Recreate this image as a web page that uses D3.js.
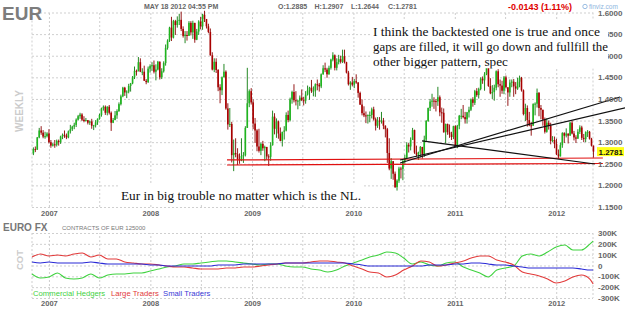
<!DOCTYPE html>
<html>
<head>
<meta charset="utf-8">
<script src="https://cdn.jsdelivr.net/npm/d3@7"></script>
<style>
  body { margin: 0; background: #fff; }
  svg { display: block; font-family: "Liberation Sans", Arial, sans-serif; }
</style>
</head>
<body>
<div id="chart"></div>
<script>
const WIDTH = 625;
const HEIGHT = 311;
const PLOT = {left: 32, right: 593, top: 12.5, bottom: 207};
const COT = {top: 233, bottom: 298};

// weekly candles, one per week starting monday 6 nov 2006 (open = previous close)
const FIRST_WEEK = new Date(2006, 10, 6);
const FIRST_OPEN = 1.274;

const weeklyClose = [
  1.284,1.283,1.311,1.327,1.322,1.313,1.314,1.320,
  1.300,1.292,1.295,1.294,1.303,1.300,1.313,1.317,1.315,1.311,1.325,1.330,1.336,1.340,1.352,1.360,1.364,1.352,1.349,1.351,1.345,1.348,1.338,1.339,1.346,1.354,1.363,1.378,1.382,1.368,1.382,1.368,1.345,1.351,1.362,1.372,1.388,1.406,1.426,1.415,1.417,1.430,1.436,1.450,1.465,1.464,1.485,1.463,1.463,1.442,1.439,1.470,
  1.476,1.478,1.463,1.468,1.486,1.450,1.464,1.483,1.518,1.535,1.565,1.542,1.580,1.571,1.581,1.583,1.562,1.546,1.548,1.546,1.576,1.554,1.576,1.537,1.556,1.579,1.568,1.595,1.585,1.568,1.555,1.501,1.468,1.486,1.467,1.427,1.420,1.450,1.463,1.378,1.341,1.342,1.270,1.275,1.272,1.260,1.258,1.268,1.270,1.333,1.390,1.418,
  1.392,1.343,1.327,1.290,1.280,1.296,1.286,1.289,1.267,1.266,1.293,1.359,1.331,1.348,1.320,1.303,1.324,1.327,1.363,1.351,1.399,1.416,1.397,1.395,1.396,1.403,1.397,1.396,1.410,1.420,1.426,1.418,1.419,1.434,1.433,1.429,1.457,1.471,1.468,1.457,1.472,1.491,1.501,1.472,1.485,1.492,1.486,1.499,1.485,1.461,1.434,1.438,
  1.433,1.441,1.438,1.414,1.387,1.367,1.362,1.361,1.363,1.363,1.376,1.353,1.338,1.350,1.348,1.350,1.338,1.330,1.275,1.239,1.256,1.227,1.196,1.211,1.239,1.238,1.257,1.264,1.294,1.290,1.305,1.328,1.276,1.271,1.276,1.289,1.271,1.306,1.349,1.379,1.394,1.396,1.395,1.394,1.404,1.369,1.368,1.323,1.342,1.323,1.318,1.312,1.337,
  1.291,1.338,1.361,1.361,1.358,1.353,1.369,1.375,1.399,1.391,1.418,1.409,1.423,1.447,1.443,1.457,1.481,1.430,1.413,1.416,1.426,1.464,1.434,1.431,1.419,1.450,1.427,1.415,1.438,1.440,1.429,1.424,1.440,1.449,1.420,1.365,1.379,1.351,1.339,1.338,1.388,1.389,1.414,1.379,1.375,1.352,1.324,1.345,1.338,1.303,1.305,1.296,
  1.272,1.267,1.293,1.321,1.315,1.320,1.315,1.345,1.320,1.311,1.308,1.324,1.334,1.310,1.307,1.323,1.324,1.308,1.292,1.2781
];
const weeklyHigh = [
  1.288,1.290,1.312,1.333,1.337,1.328,1.324,1.323,
  1.330,1.305,1.298,1.305,1.306,1.306,1.315,1.320,1.327,1.320,1.327,1.340,1.338,1.345,1.355,1.363,1.368,1.367,1.360,1.356,1.351,1.350,1.354,1.340,1.351,1.355,1.366,1.380,1.385,1.385,1.383,1.386,1.371,1.356,1.372,1.376,1.392,1.410,1.428,1.428,1.420,1.435,1.437,1.453,1.475,1.468,1.497,1.494,1.471,1.477,1.446,1.475,
  1.480,1.485,1.489,1.480,1.488,1.487,1.471,1.487,1.526,1.538,1.567,1.590,1.583,1.583,1.591,1.597,1.602,1.568,1.557,1.557,1.580,1.580,1.581,1.568,1.562,1.582,1.590,1.597,1.604,1.585,1.574,1.563,1.508,1.494,1.494,1.469,1.434,1.452,1.481,1.466,1.390,1.379,1.347,1.306,1.309,1.286,1.274,1.309,1.277,1.337,1.472,1.422,
  1.425,1.399,1.356,1.330,1.331,1.299,1.303,1.292,1.289,1.272,1.300,1.373,1.367,1.355,1.350,1.334,1.324,1.337,1.369,1.373,1.403,1.419,1.434,1.418,1.398,1.408,1.422,1.405,1.418,1.431,1.428,1.444,1.429,1.436,1.445,1.437,1.459,1.478,1.484,1.472,1.477,1.493,1.508,1.503,1.494,1.502,1.500,1.514,1.514,1.486,1.465,1.441,
  1.451,1.446,1.457,1.439,1.417,1.399,1.383,1.371,1.364,1.371,1.380,1.382,1.357,1.358,1.358,1.370,1.356,1.339,1.333,1.309,1.263,1.253,1.232,1.214,1.243,1.243,1.258,1.271,1.300,1.298,1.311,1.333,1.329,1.292,1.278,1.291,1.288,1.315,1.351,1.380,1.400,1.412,1.404,1.400,1.428,1.408,1.380,1.378,1.343,1.343,1.341,1.324,1.338,
  1.339,1.340,1.363,1.377,1.386,1.370,1.370,1.382,1.401,1.404,1.421,1.425,1.426,1.450,1.452,1.462,1.486,1.494,1.448,1.432,1.433,1.466,1.469,1.445,1.442,1.453,1.454,1.427,1.445,1.445,1.446,1.439,1.449,1.454,1.451,1.422,1.389,1.385,1.370,1.347,1.390,1.392,1.424,1.416,1.386,1.366,1.357,1.355,1.350,1.345,1.314,1.313,
  1.308,1.283,1.299,1.323,1.323,1.332,1.320,1.347,1.349,1.326,1.316,1.330,1.339,1.338,1.319,1.325,1.328,1.326,1.310,1.291
];
const weeklyLow = [
  1.270,1.277,1.282,1.309,1.317,1.309,1.308,1.311,
  1.297,1.287,1.290,1.287,1.290,1.292,1.296,1.307,1.310,1.307,1.309,1.320,1.326,1.330,1.335,1.350,1.354,1.349,1.346,1.348,1.341,1.340,1.331,1.328,1.334,1.340,1.352,1.359,1.373,1.363,1.362,1.364,1.326,1.344,1.355,1.354,1.370,1.385,1.404,1.407,1.402,1.413,1.417,1.434,1.446,1.454,1.466,1.462,1.455,1.442,1.434,1.437,
  1.461,1.465,1.459,1.443,1.466,1.445,1.446,1.461,1.477,1.514,1.532,1.534,1.540,1.548,1.565,1.571,1.557,1.542,1.529,1.535,1.546,1.547,1.539,1.530,1.536,1.548,1.561,1.560,1.578,1.563,1.552,1.500,1.466,1.462,1.460,1.418,1.390,1.409,1.451,1.375,1.329,1.335,1.253,1.233,1.265,1.247,1.250,1.256,1.252,1.267,1.335,1.381,
  1.387,1.330,1.298,1.279,1.276,1.270,1.280,1.256,1.260,1.245,1.257,1.292,1.318,1.310,1.308,1.302,1.290,1.306,1.325,1.346,1.348,1.389,1.392,1.385,1.376,1.384,1.395,1.385,1.389,1.408,1.398,1.414,1.406,1.405,1.420,1.417,1.425,1.456,1.462,1.449,1.456,1.468,1.487,1.466,1.466,1.480,1.482,1.483,1.482,1.459,1.431,1.421,
  1.429,1.425,1.435,1.403,1.386,1.362,1.358,1.344,1.343,1.346,1.355,1.350,1.327,1.333,1.329,1.343,1.330,1.311,1.252,1.235,1.215,1.213,1.194,1.188,1.206,1.216,1.212,1.250,1.262,1.276,1.281,1.305,1.273,1.267,1.259,1.265,1.262,1.266,1.302,1.347,1.372,1.382,1.377,1.371,1.384,1.360,1.345,1.322,1.297,1.317,1.310,1.305,1.307,
  1.290,1.286,1.330,1.353,1.355,1.343,1.343,1.357,1.372,1.382,1.386,1.405,1.401,1.420,1.435,1.419,1.455,1.428,1.411,1.400,1.396,1.420,1.427,1.405,1.412,1.411,1.424,1.384,1.405,1.427,1.405,1.411,1.421,1.427,1.417,1.362,1.349,1.336,1.337,1.315,1.340,1.362,1.380,1.360,1.353,1.338,1.320,1.322,1.329,1.295,1.300,1.286,
  1.270,1.262,1.270,1.287,1.298,1.311,1.297,1.316,1.318,1.304,1.298,1.313,1.319,1.305,1.300,1.300,1.312,1.306,1.290,1.264
];

// COT net positions (thousands of contracts), one value per month from nov 2006
const commercial = [-78,-115,-106,-69,-115,-125,-115,-78,-115,-88,-78,-78,-69,-69,-51,-32,-14,-5,14,14,23,32,42,42,32,23,14,5,14,14,-5,-14,-14,-32,-42,-60,-42,-5,23,51,78,97,125,115,69,14,32,5,-5,23,32,-14,-42,-69,-106,-42,-23,-5,88,106,88,125,171,189,143,143,198,226];
const largeTraders = [78,106,88,97,88,106,115,78,97,60,60,32,23,14,14,5,-5,-14,-14,-23,-32,-32,-32,-23,-23,-14,-14,-5,5,14,23,23,23,32,42,42,32,23,-5,-32,-60,-69,-106,-88,-42,-5,42,32,-5,5,23,42,69,88,88,51,32,5,-60,-78,-97,-125,-162,-143,-106,-88,-125,-171];
const smallTraders = [32,23,32,23,23,23,23,32,23,14,14,14,14,14,5,5,-5,-5,-5,-5,-5,-5,5,5,5,14,14,14,14,14,23,23,23,23,23,23,23,23,14,5,-5,-5,-5,-5,-5,-5,-5,5,5,5,14,14,23,23,14,5,5,-5,-14,-23,-23,-23,-23,-23,-23,-32,-42,-42];

const priceTicks = [1.15, 1.20, 1.25, 1.30, 1.35, 1.40, 1.45, 1.50, 1.55, 1.60];
const cotTicks = [300, 200, 100, 0, -100, -200, -300];
const cotTickLabels = ["300K", "200K", "100K", "0", "-100K", "-200K", "-300K"];
const years = [2007, 2008, 2009, 2010, 2011, 2012];

// hand drawn trend lines [date, price]
const redLines = [
  [["2008-10-03", 1.2588], ["2012-06-17", 1.2634]],
  [["2008-10-03", 1.2472], ["2012-06-17", 1.2507]]
];
const blackLines = [
  [["2010-06-18", 1.2519], ["2012-08-18", 1.4046]],
  [["2010-06-18", 1.2588], ["2012-09-05", 1.3792]],
  [["2010-09-05", 1.3028], ["2012-05-19", 1.2495]]
];

const noteTop = ["I think the backtested one is true and once",
  "gaps are filled, it will go down and fullfill the",
  "other bigger pattern, spec"];
const noteTopWidths = [227, 235, 135];
const noteBottom = "Eur in big trouble no matter which is the NL.";

const parseDate = d3.timeParse("%Y-%m-%d");

let svg = d3.select("#chart")
  .append("svg")
    .attr("width", WIDTH)
    .attr("height", HEIGHT);
svg.append("rect").attr("width", WIDTH).attr("height", HEIGHT).attr("fill", "#fff");

let x = d3.scaleTime()
  .domain([new Date(2006, 10, 1), new Date(2012, 4, 16)])
  .range([32, 594]);
let y = d3.scaleLinear().domain([1.15, 1.60]).range([PLOT.bottom, PLOT.top]);
let yc = d3.scaleLinear().domain([-300, 300]).range([COT.bottom, COT.top]);

// grids
const gridDates = d3.timeMonth.every(6).range(new Date(2007, 0, 1), new Date(2012, 1, 1));
const yearDates = years.map(yr => new Date(yr, 0, 1));

function styleGrid(g) {
  g.select(".domain").remove();
  g.selectAll("line")
    .attr("stroke", "#cfcfcf")
    .attr("stroke-dasharray", "2,2");
}

function drawGrid(top, bottom, scale, ticks) {
  svg.append("g")
    .attr("transform", "translate(0," + bottom + ")")
    .call(d3.axisBottom(x).tickValues(gridDates).tickSize(-(bottom - top)).tickFormat(""))
    .call(styleGrid);
  svg.append("g")
    .attr("transform", "translate(" + PLOT.left + ",0)")
    .call(d3.axisLeft(scale).tickValues(ticks).tickSize(-(PLOT.right - PLOT.left)).tickFormat(""))
    .call(styleGrid);
  [PLOT.left, PLOT.right].forEach(px => {
    svg.append("line")
      .attr("x1", px).attr("x2", px).attr("y1", top).attr("y2", bottom)
      .attr("stroke", "#cfcfcf").attr("stroke-dasharray", "2,2");
  });
}
drawGrid(PLOT.top, PLOT.bottom, y, priceTicks);
drawGrid(COT.top, COT.bottom, yc, cotTicks);

// candles
let candles = weeklyClose.map((c, i) => {
  let o = i === 0 ? FIRST_OPEN : weeklyClose[i - 1];
  return {
    date: d3.timeWeek.offset(FIRST_WEEK, i),
    open: o, close: c,
    high: Math.max(weeklyHigh[i], o, c),
    low: Math.min(weeklyLow[i], o, c)
  };
});

let cg = svg.append("g");
cg.selectAll("line")
  .data(candles)
  .enter().append("line")
    .attr("x1", d => x(d.date)).attr("x2", d => x(d.date))
    .attr("y1", d => y(d.high)).attr("y2", d => y(d.low))
    .attr("stroke", d => d.close >= d.open ? "#0c7a0c" : "#8a0000")
    .attr("stroke-width", 0.9);
cg.selectAll("rect")
  .data(candles)
  .enter().append("rect")
    .attr("x", d => x(d.date) - 0.8)
    .attr("width", 1.6)
    .attr("y", d => y(Math.max(d.open, d.close)))
    .attr("height", d => Math.max(1, Math.abs(y(d.open) - y(d.close))))
    .attr("fill", d => d.close >= d.open ? "#1fb51f" : "#a80000");

// COT lines
let cotDates = d3.timeMonth.range(new Date(2006, 10, 1), new Date(2012, 4, 2));
cotDates.push(new Date(2012, 4, 13));

let cotLine = d3.line()
  .x((d, i) => x(cotDates[i]))
  .y(d => yc(d))
  .curve(d3.curveMonotoneX);

[[commercial, "#3fd23f"], [largeTraders, "#e23a3a"], [smallTraders, "#2a2ad6"]].forEach(s => {
  svg.append("path")
    .datum(s[0])
    .attr("fill", "none")
    .attr("stroke", s[1])
    .attr("stroke-width", 1.1)
    .attr("d", cotLine);
});

// trend lines
let trend = d3.line()
  .x(d => x(parseDate(d[0])))
  .y(d => y(d[1]));
redLines.forEach(l => {
  svg.append("path").datum(l)
    .attr("fill", "none").attr("stroke", "#e01010").attr("stroke-width", 1.2)
    .attr("d", trend);
});
blackLines.forEach(l => {
  svg.append("path").datum(l)
    .attr("fill", "none").attr("stroke", "#111").attr("stroke-width", 1.2)
    .attr("d", trend);
});

// axes labels
function styleAxis(g) {
  g.select(".domain").remove();
  g.attr("font-family", "'Liberation Sans', Arial, sans-serif")
    .attr("font-weight", "bold")
    .attr("font-size", 8);
  g.selectAll("text").attr("fill", "#666");
}

svg.append("g")
  .attr("transform", "translate(" + PLOT.right + ",0)")
  .call(d3.axisRight(y).tickValues(priceTicks).tickSize(0).tickPadding(5).tickFormat(d3.format(".4f")))
  .call(styleAxis);
svg.append("g")
  .attr("transform", "translate(" + PLOT.right + ",0)")
  .call(d3.axisRight(yc).tickValues(cotTicks).tickSize(0).tickPadding(5).tickFormat((d, i) => cotTickLabels[i]))
  .call(styleAxis);

svg.append("g")
  .attr("transform", "translate(0," + PLOT.bottom + ")")
  .call(d3.axisBottom(x).tickValues(yearDates).tickSize(0).tickPadding(3.5).tickFormat(d3.timeFormat("%Y")))
  .call(styleAxis)
  .attr("font-size", 7.5);
svg.append("g")
  .attr("transform", "translate(0," + COT.bottom + ")")
  .call(d3.axisBottom(x).tickValues(yearDates).tickSize(0).tickPadding(2.8).tickFormat(d3.timeFormat("%Y")))
  .call(styleAxis)
  .attr("font-size", 7.5);

// last price tag
let last = candles[candles.length - 1];
svg.append("rect")
  .attr("x", 597).attr("y", y(last.close) - 4.5)
  .attr("width", 27).attr("height", 9)
  .attr("fill", "#ffff1a");
svg.append("text")
  .attr("x", 598.5).attr("y", y(last.close) + 3)
  .attr("font-size", 8).attr("font-weight", "bold").attr("fill", "#111")
  .text(d3.format(".4f")(last.close));

// notes with white backing
svg.append("clipPath").attr("id", "noteclip")
  .append("rect").attr("x", 372).attr("y", 20).attr("width", 236).attr("height", 48.5);
let note = svg.append("g").attr("clip-path", "url(#noteclip)");
note.append("rect").attr("x", 372).attr("y", 20).attr("width", 236).attr("height", 48.5).attr("fill", "#fff");
note.selectAll("text")
  .data(noteTop)
  .enter().append("text")
    .attr("x", 373)
    .attr("y", (d, i) => 35.5 + i * 15)
    .attr("font-family", "'Liberation Serif', 'DejaVu Serif', serif")
    .attr("font-size", 13.3)
    .attr("textLength", (d, i) => noteTopWidths[i])
    .attr("lengthAdjust", "spacingAndGlyphs")
    .attr("fill", "#111")
    .text(d => d);

svg.append("rect").attr("x", 118).attr("y", 185).attr("width", 245).attr("height", 18).attr("fill", "#fff");
svg.append("text")
  .attr("x", 121).attr("y", 199.5)
  .attr("font-family", "'Liberation Serif', 'DejaVu Serif', serif")
  .attr("font-size", 13.3)
  .attr("fill", "#111")
  .text(noteBottom);

// header texts
svg.append("text").attr("x", 2).attr("y", 19.5)
  .attr("font-size", 19).attr("font-weight", "bold").attr("fill", "#7d7d7d")
  .text("EUR");
svg.append("text").attr("x", 144).attr("y", 8.5)
  .attr("font-size", 7).attr("font-weight", "bold").attr("fill", "#666")
  .text("MAY 18 2012 04:55 PM");
[["O:1.2885", 278], ["H:1.2907", 314.5], ["L:1.2644", 351], ["C:1.2781", 388]].forEach(t => {
  svg.append("text").attr("x", t[1]).attr("y", 8.5)
    .attr("font-size", 7).attr("font-weight", "bold").attr("fill", "#666")
    .text(t[0]);
});
svg.append("text").attr("x", 508).attr("y", 9.5)
  .attr("font-size", 9).attr("font-weight", "bold").attr("fill", "#e00000")
  .text("-0.0143 (1.11%)");
svg.append("circle").attr("cx", 585).attr("cy", 6.5).attr("r", 2.2)
  .attr("fill", "none").attr("stroke", "#8fb6e0").attr("stroke-width", 0.9);
svg.append("text").attr("x", 589).attr("y", 9)
  .attr("font-size", 6.5).attr("fill", "#8fb6e0")
  .text("finviz.com");

svg.append("text")
  .attr("transform", "translate(23,111) rotate(-90)")
  .attr("text-anchor", "middle")
  .attr("font-size", 10).attr("font-weight", "bold").attr("fill", "#cccccc")
  .text("WEEKLY");
svg.append("text")
  .attr("transform", "translate(23,260) rotate(-90)")
  .attr("text-anchor", "middle")
  .attr("font-size", 9.5).attr("font-weight", "bold").attr("fill", "#cccccc")
  .text("COT");

svg.append("text").attr("x", 3).attr("y", 231)
  .attr("font-size", 10).attr("font-weight", "bold").attr("fill", "#777")
  .text("EURO FX");
svg.append("text").attr("x", 62).attr("y", 230)
  .attr("font-size", 6).attr("fill", "#777")
  .text("CONTRACTS OF EUR 125000");

[["Commercial Hedgers", 33, "#3fd23f"], ["Large Traders", 111, "#e23a3a"], ["Small Traders", 163, "#3a3ad6"]].forEach(t => {
  svg.append("text").attr("x", t[1]).attr("y", 295.5)
    .attr("font-size", 7.7).attr("fill", t[2])
    .text(t[0]);
});
</script>
</body>
</html>
